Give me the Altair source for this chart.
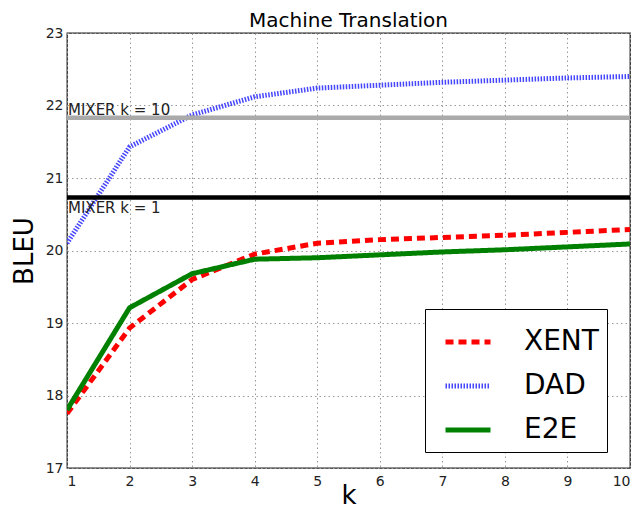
import altair as alt
import pandas as pd

k = [1, 2, 3, 4, 5, 6, 7, 8, 9, 10]
xent = [17.75, 18.93, 19.60, 19.95, 20.10, 20.15, 20.18, 20.21, 20.25, 20.29]
dad = [20.10, 21.43, 21.87, 22.12, 22.24, 22.28, 22.32, 22.35, 22.38, 22.40]
e2e = [17.80, 19.21, 19.68, 19.88, 19.90, 19.94, 19.98, 20.01, 20.05, 20.09]
series = ["XENT", "DAD", "E2E"]
colors = ["#ff0000", "#4646ff", "#008000"]
dashes = [[8, 5], [1.5, 1.5], [1, 0]]

mixer_names = ["MIXER k = 10", "MIXER k = 1"]
mixer_vals = [21.83, 20.73]
mixer_colors = ["#aaaaaa", "#000000"]
mixer_dy = [-3, 15.5]

y_ticks = [17, 18, 19, 20, 21, 22, 23]

rows = []
for name, vals in zip(series, [xent, dad, e2e]):
    for kk, v in zip(k, vals):
        rows.append({"k": kk, "bleu": v, "series": name})
df = pd.DataFrame(rows)

W, H = 563, 435

xs = alt.X("k:Q", scale=alt.Scale(domain=[1, 10], nice=False, zero=False),
           axis=alt.Axis(values=k, format="d", title="k"))
ys = alt.Y("bleu:Q", scale=alt.Scale(domain=[17, 23], nice=False, zero=False),
           axis=alt.Axis(values=y_ticks, format="d", title="BLEU"))

layers = []
for name, val, col, dy in zip(mixer_names, mixer_vals, mixer_colors, mixer_dy):
    mdf = pd.DataFrame({"k": [1], "bleu": [val], "label": [name]})
    layers.append(
        alt.Chart(mdf).mark_rule(strokeWidth=4.5, color=col).encode(
            y=alt.Y("bleu:Q", scale=alt.Scale(domain=[17, 23], nice=False, zero=False))
        )
    )
    layers.append(
        alt.Chart(mdf).mark_text(align="left", baseline="alphabetic", dy=dy, dx=1,
                                 fontSize=15, font="DejaVu Sans", color="#222222").encode(
            x=alt.X("k:Q", scale=alt.Scale(domain=[1, 10], nice=False, zero=False)),
            y=alt.Y("bleu:Q", scale=alt.Scale(domain=[17, 23], nice=False, zero=False)),
            text="label:N",
        )
    )

lines = alt.Chart(df).mark_line(strokeWidth=5, clip=True).encode(
    x=xs,
    y=ys,
    color=alt.Color("series:N", scale=alt.Scale(domain=series, range=colors),
                    sort=series,
                    legend=alt.Legend(orient="none", legendX=358, legendY=276, title=None,
                                      symbolType="stroke", symbolSize=2025,
                                      symbolStrokeWidth=5, labelFontSize=28,
                                      labelFont="DejaVu Sans", labelColor="black",
                                      labelOffset=31, padding=8, strokeColor="black",
                                      fillColor="white", rowPadding=5, symbolOffset=10)),
    strokeDash=alt.StrokeDash("series:N", scale=alt.Scale(domain=series, range=dashes),
                              sort=series,
                              legend=alt.Legend(orient="none", legendX=358, legendY=276, title=None)),
)

chart = alt.layer(lines, *layers).properties(
    width=W, height=H,
    title=alt.TitleParams("Machine Translation", fontSize=20, font="DejaVu Sans",
                          fontWeight="normal", color="black", offset=-5),
    autosize=alt.AutoSizeParams(type="none"),
    padding={"left": 59, "top": 25, "right": 1, "bottom": 42},
).configure_view(
    stroke="#222222", strokeWidth=1.3
).configure_axis(
    labelFont="DejaVu Sans", labelFontSize=14, labelColor="#222222",
    titleFont="DejaVu Sans", titleFontWeight="normal", titleColor="black",
    titleFontSize=26, domain=False, ticks=False,
    grid=True, gridColor="#999999", gridDash=[1.5, 3], gridWidth=1,
).configure_axisX(
    labelPadding=6, titlePadding=-6
).configure_axisY(
    labelPadding=4, titlePadding=8
)

chart.save("out.html", embed_options={"renderer": "svg", "actions": False})
